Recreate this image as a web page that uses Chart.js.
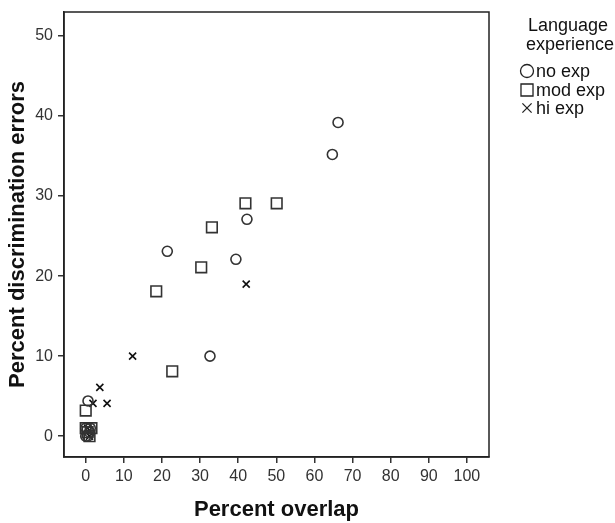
<!DOCTYPE html>
<html>
<head>
<meta charset="utf-8">
<script src="https://cdn.jsdelivr.net/npm/chart.js@4/dist/chart.umd.min.js"></script>
<style>
  html, body { margin: 0; padding: 0; background: #fff; }
  #wrap { width: 615px; height: 523px; }
</style>
</head>
<body>
<div id="wrap"><canvas id="chart" width="615" height="523"></canvas></div>
<script>
// ---------------------------- data ---------------------------------
const seriesNames = ['no exp', 'mod exp', 'hi exp'];
const legendTitle = ['Language', 'experience'];

const noExpX  = [66.2, 64.7, 42.3, 21.4, 39.4, 32.6, 0.6, 0, 0.5, 1, 0, 1.2];
const noExpY  = [39.2, 35.2, 27.1, 23.1, 22.1, 10.0, 4.4, 0, 0, 0.5, 1, 1];
const modExpX = [41.9, 50.1, 33.1, 30.3, 18.5, 22.7, 0, 0, 1, 1.5, 0.5];
const modExpY = [29.1, 29.1, 26.1, 21.1, 18.1, 8.1, 3.2, 1, 0, 1, 0.5];
const hiExpX  = [42.1, 12.3, 3.7, 1.9, 5.6, 1, 0.5];
const hiExpY  = [19.0, 10.0, 6.1, 4.1, 4.1, 0, 1];

const xTicks = [0, 10, 20, 30, 40, 50, 60, 70, 80, 90, 100];
const yTicks = [0, 10, 20, 30, 40, 50];

function pairs(xs, ys) {
  return xs.map((x, i) => ({ x: x, y: ys[i] }));
}

const ink = '#333';
const font = "'Liberation Sans', Arial, sans-serif";

// ---------------------------- plugins ------------------------------
// box round the plot area (top and right sides)
const frame = {
  id: 'frame',
  afterDraw(chart) {
    const a = chart.chartArea, c = chart.ctx;
    c.save();
    c.strokeStyle = '#222';
    c.lineWidth = 1.5;
    c.strokeRect(a.left, a.top, a.right - a.left, a.bottom - a.top);
    c.restore();
  }
};

// legend drawn on the right, with a two line title
const sideLegend = {
  id: 'sideLegend',
  afterDraw(chart) {
    const c = chart.ctx;
    c.save();
    c.fillStyle = '#111';
    c.font = '18px ' + font;
    c.textAlign = 'center';
    c.textBaseline = 'middle';
    c.fillText(legendTitle[0], 568, 26);
    c.fillText(legendTitle[1], 570, 45);
    c.textAlign = 'left';
    const rows = [71, 90, 108];
    const styles = ['circle', 'rect', 'crossRot'];
    rows.forEach((y, i) => {
      c.strokeStyle = '#222';
      c.fillStyle = 'rgba(0,0,0,0)';
      c.lineWidth = 1.3;
      Chart.helpers.drawPoint(c, { pointStyle: styles[i], radius: i === 1 ? 8.5 : 6.5, borderWidth: 1.3 }, 527, y);
      c.fillStyle = '#111';
      c.fillText(seriesNames[i], 536, y + 1);
    });
    c.restore();
  }
};

// ---------------------------- chart --------------------------------
const ctx = document.getElementById('chart');
new Chart(ctx, {
  type: 'scatter',
  data: {
    datasets: [
      {
        label: seriesNames[0],
        data: pairs(noExpX, noExpY),
        pointStyle: 'circle',
        pointRadius: 5,
        borderColor: ink,
        backgroundColor: 'rgba(0,0,0,0)',
        borderWidth: 1.6
      },
      {
        label: seriesNames[1],
        data: pairs(modExpX, modExpY),
        pointStyle: 'rect',
        pointRadius: 7.5,
        borderColor: ink,
        backgroundColor: 'rgba(0,0,0,0)',
        borderWidth: 1.6
      },
      {
        label: seriesNames[2],
        data: pairs(hiExpX, hiExpY),
        pointStyle: 'crossRot',
        pointRadius: 5,
        borderColor: '#111',
        backgroundColor: 'rgba(0,0,0,0)',
        borderWidth: 1.6
      }
    ]
  },
  options: {
    responsive: false,
    animation: false,
    devicePixelRatio: 1,
    layout: { padding: { left: 0, top: 12, right: 126, bottom: 0 } },
    plugins: {
      legend: { display: false },
      tooltip: { enabled: false }
    },
    scales: {
      x: {
        type: 'linear',
        min: -5.7,
        max: 105.8,
        afterBuildTicks: s => { s.ticks = xTicks.map(v => ({ value: v })); },
        afterFit: s => { s.height = 66; s.paddingLeft = 0; s.paddingRight = 0; },
        grid: { drawOnChartArea: false, drawTicks: true, tickLength: 6, color: ink, lineWidth: 1.5 },
        border: { color: '#222', width: 1.5 },
        ticks: { color: ink, font: { family: font, size: 16 }, padding: 4, maxRotation: 0, autoSkip: false },
        title: { display: true, text: 'Percent overlap', color: '#111', font: { family: font, size: 22, weight: 'bold' }, padding: { top: 0, bottom: 0 } }
      },
      y: {
        type: 'linear',
        min: -2.6,
        max: 53,
        afterBuildTicks: s => { s.ticks = yTicks.map(v => ({ value: v })); },
        afterFit: s => { s.width = 64; s.paddingTop = 0; s.paddingBottom = 0; },
        grid: { drawOnChartArea: false, drawTicks: true, tickLength: 6, color: ink, lineWidth: 1.5 },
        border: { color: '#222', width: 1.5 },
        ticks: { color: ink, font: { family: font, size: 16 }, padding: 5, autoSkip: false },
        title: { display: true, text: 'Percent discrimination errors', color: '#111', font: { family: font, size: 22, weight: 'bold' }, padding: { top: 5, bottom: 0 } }
      }
    }
  },
  plugins: [frame, sideLegend]
});
</script>
</body>
</html>
